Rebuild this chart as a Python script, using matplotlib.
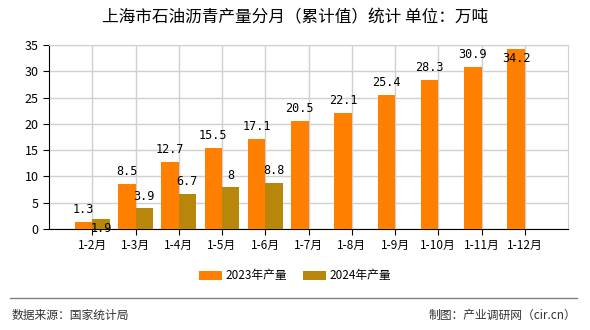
import matplotlib.pyplot as plt

plt.rcParams['font.family'] = ['Noto Sans CJK SC', 'DejaVu Sans']

# data
months = ["1-2月", "1-3月", "1-4月", "1-5月", "1-6月", "1-7月",
          "1-8月", "1-9月", "1-10月", "1-11月", "1-12月"]
output_2023 = [1.3, 8.5, 12.7, 15.5, 17.1, 20.5, 22.1, 25.4, 28.3, 30.9, 34.2]
output_2024 = [1.9, 3.9, 6.7, 8, 8.8]
labels_2024 = ["1.9", "3.9", "6.7", "8", "8.8"]

c23 = '#FF8000'
c24 = '#B8860B'

fig = plt.figure(figsize=(5.9, 3.3), dpi=100)
ax = fig.add_axes([49/590, 1-229/330, 519/590, 184/330])

x = list(range(len(months)))
w = 0.4
ax.bar([i - w/2 for i in x], output_2023, width=w, color=c23, label='2023年产量', zorder=3)
ax.bar([i + w/2 for i in range(len(output_2024))], output_2024, width=w, color=c24,
       label='2024年产量', zorder=3)

ax.set_xlim(-1, 11)
ax.set_ylim(0, 35)
ax.set_yticks(range(0, 36, 5))
ax.set_xticks(x)
ax.set_xticklabels(months, fontsize=8.5)
ax.tick_params(axis='y', labelsize=9, length=4)
ax.tick_params(axis='x', length=4)
ax.grid(True, color='#d0d0d0', linewidth=1, zorder=0)
for s in ['top', 'right']:
    ax.spines[s].set_color('#d0d0d0')
for s in ['left', 'bottom']:
    ax.spines[s].set_color('black')

# value labels
for i, v in enumerate(output_2023):
    off = -6.5 if v > 33 else 9
    ax.annotate(str(v), (i - w/2, v), xytext=(0, off), textcoords='offset points',
                ha='center', va='center', fontsize=8.5, family='DejaVu Sans Mono', zorder=4)
for i, v in enumerate(output_2024):
    off = -6.5 if i == 0 else 8.5
    ax.annotate(labels_2024[i], (i + w/2, v), xytext=(0, off), textcoords='offset points',
                ha='center', va='center', fontsize=8.5, family='DejaVu Sans Mono', zorder=4)

fig.text(0.5, 1-18/330, '上海市石油沥青产量分月（累计值）统计 单位：万吨',
         ha='center', va='center', fontsize=12, weight='medium')

fig.legend(loc='center', bbox_to_anchor=(0.5, 1-276/330), ncol=2, frameon=False,
           fontsize=8.5, handlelength=1.9, handleheight=0.7, handletextpad=0.3,
           columnspacing=1.4)

fig.add_artist(plt.Line2D([10/590, 577/590], [1-298/330, 1-298/330],
                          color='#808080', linewidth=1))
fig.text(12/590, 1-315/330, '数据来源：国家统计局', ha='left', va='center',
         fontsize=8.5, color='#333333')
fig.text(576/590, 1-315/330, '制图：产业调研网（cir.cn）', ha='right', va='center',
         fontsize=8.5, color='#333333')

fig.savefig('out.png', dpi=100)
